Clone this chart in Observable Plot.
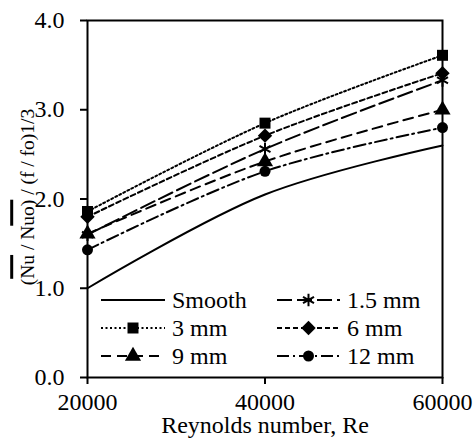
<!DOCTYPE html>
<html><head><meta charset="utf-8">
<script src="https://cdn.jsdelivr.net/npm/d3@7"></script>
<script src="https://cdn.jsdelivr.net/npm/@observablehq/plot@0.6"></script>
<style>body{margin:0;background:#fff} svg{display:block} svg text{font-family:"Liberation Serif","Times New Roman",Times,serif !important;}</style>
</head><body><div id="chart"></div>
<script>
// ---- data ----
const reynolds = [20000, 40000, 60000];
const smooth = [1.00, 2.05, 2.60];
const mm1_5 = [1.60, 2.56, 3.33];
const mm3 = [1.86, 2.85, 3.61];
const mm6 = [1.80, 2.71, 3.41];
const mm9 = [1.61, 2.42, 3.00];
const mm12 = [1.43, 2.31, 2.80];
const seriesNames = ["Smooth", "1.5 mm", "3 mm", "6 mm", "9 mm", "12 mm"];
const xTicks = [20000, 40000, 60000];
const yTicks = [0, 1, 2, 3, 4];
const xLabel = "Reynolds number, Re";
const yLabel = "(Nu / Nuo) / (f / fo)1/3";

// ---- styles ----
const styles = {
  "Smooth": {dash: null, symbol: null},
  "1.5 mm": {dash: "15,5", symbol: "asterisk"},
  "3 mm": {dash: "2,2.5", symbol: "square"},
  "6 mm": {dash: "5,3", symbol: "diamond2"},
  "9 mm": {dash: "10,6", symbol: "triangle"},
  "12 mm": {dash: "12,4,2,4", symbol: "circle"}
};
const valuesBy = {"Smooth": smooth, "1.5 mm": mm1_5, "3 mm": mm3, "6 mm": mm6, "9 mm": mm9, "12 mm": mm12};
const rows = seriesNames.flatMap(name => reynolds.map((re, i) => ({name, re, v: valuesBy[name][i]})));

const symR = {asterisk: 6, square: 6.2, diamond2: 6.5, triangle: 6, circle: 5.5};
const font = "'Liberation Serif', 'Times New Roman', Times, serif";
const fs = 24;

const marks = [
  Plot.frame({stroke: "black", strokeWidth: 2}),
  Plot.axisX({ticks: xTicks, tickFormat: d => String(d), tickSize: 7, tickPadding: 8, strokeWidth: 2, label: null, fontFamily: font, fontSize: fs}),
  Plot.axisY({ticks: yTicks, tickFormat: d => d.toFixed(1), tickSize: 7, tickPadding: 16, strokeWidth: 2, label: null, fontFamily: font, fontSize: fs}),
  Plot.text([xLabel], {frameAnchor: "bottom", dy: 55.5, fontSize: fs, fontFamily: font, textAnchor: "middle"}),
  Plot.text([yLabel], {frameAnchor: "left", dx: -60, dy: -2, rotate: -90, fontSize: 19.5, fontFamily: font, textAnchor: "middle"})
];
for (const name of seriesNames) {
  const st = styles[name];
  const d = rows.filter(r => r.name === name);
  marks.push(Plot.line(d, {x: "re", y: "v", stroke: "black", strokeWidth: 2, strokeDasharray: st.dash, curve: "catmull-rom"}));
}
for (const name of seriesNames) {
  const st = styles[name];
  if (!st.symbol) continue;
  const d = rows.filter(r => r.name === name);
  if (st.symbol === "asterisk") {
    marks.push(Plot.dot(d, {x: "re", y: "v", symbol: "asterisk", stroke: "black", strokeWidth: 2, r: symR.asterisk}));
  } else {
    marks.push(Plot.dot(d, {x: "re", y: "v", symbol: st.symbol, fill: "black", stroke: "none", r: symR[st.symbol]}));
  }
}

const plot = Plot.plot({
  width: 474, height: 438,
  marginLeft: 87, marginRight: 32, marginTop: 20, marginBottom: 61,
  style: {fontFamily: font, fontSize: fs + "px", color: "black", background: "white", overflow: "visible"},
  x: {domain: [20000, 60000]},
  y: {domain: [0, 4]},
  marks
});
document.getElementById("chart").append(plot);

// ---- overbars on Nu and Nuo ----
const svg = d3.select(plot);
svg.selectAll("text").each(function() {
  if (this.textContent !== yLabel) return;
  const t = this;
  const lfs = 19.5;
  const spans = [[1, 2], [7, 9]];
  for (const [a, b] of spans) {
    const p0 = t.getStartPositionOfChar(a);
    const p1 = t.getEndPositionOfChar(b);
    const yb = p0.y - 1.13 * lfs;
    d3.select(t.parentNode).append("path")
      .attr("transform", t.getAttribute("transform"))
      .attr("d", `M${p0.x},${yb}H${p1.x}`)
      .attr("stroke", "black").attr("stroke-width", 3).attr("fill", "none");
  }
});

// ---- legend ----
const symbolTypes = {asterisk: d3.symbolAsterisk, square: d3.symbolSquare, diamond2: d3.symbolDiamond2, triangle: d3.symbolTriangle, circle: d3.symbolCircle};
const legendCols = [{x0: 101, x1: 165, tx: 172}, {x0: 277, x1: 340, tx: 347}];
const legendRows = [300, 328, 356];
const lg = svg.append("g").attr("font-family", font).attr("font-size", fs).attr("text-anchor", "start");
seriesNames.forEach((name, i) => {
  const col = legendCols[i % 2], ry = legendRows[Math.floor(i / 2)];
  const st = styles[name];
  lg.append("line").attr("x1", col.x0).attr("x2", col.x1).attr("y1", ry).attr("y2", ry)
    .attr("stroke", "black").attr("stroke-width", 2).attr("stroke-dasharray", st.dash);
  if (st.symbol) {
    const r = symR[st.symbol];
    const path = d3.symbol().type(symbolTypes[st.symbol]).size(r * r * Math.PI)();
    const cx = (col.x0 + col.x1) / 2;
    const s = lg.append("path").attr("d", path).attr("transform", `translate(${cx},${ry})`);
    if (st.symbol === "asterisk") s.attr("fill", "none").attr("stroke", "black").attr("stroke-width", 2);
    else s.attr("fill", "black");
  }
  lg.append("text").attr("x", col.tx).attr("y", ry + 7.5).attr("fill", "black").attr("text-anchor", "start").text(name);
});
</script></body></html>
